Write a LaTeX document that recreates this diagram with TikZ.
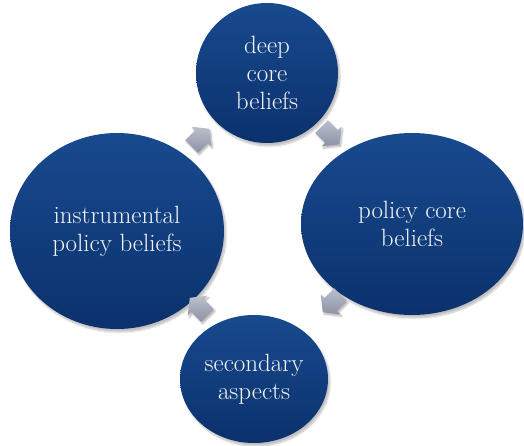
\documentclass[tikz,border=0pt]{standalone}
\usetikzlibrary{shapes.geometric,shadows.blur}

\definecolor{bubbletop}{HTML}{184A8E}
\definecolor{bubblebot}{HTML}{0B316D}
\definecolor{arrowtop}{HTML}{BBC0CD}
\definecolor{arrowbot}{HTML}{8C92A4}
\definecolor{labeltext}{HTML}{F4F4F4}

\begin{document}
\begin{tikzpicture}[x=1pt,y=-1pt,
  bubble/.style={ellipse, inner sep=0pt, draw=none,
    top color=bubbletop, bottom color=bubblebot,
    text=labeltext, align=center,
    font=\fontsize{25}{28}\selectfont,
    blur shadow={shadow xshift=2pt, shadow yshift=-3pt,
      shadow blur steps=8, shadow opacity=25}},
  cyclearrow/.pic={
    \path[top color=arrowtop, bottom color=arrowbot,
      blur shadow={shadow xshift=1.5pt, shadow yshift=-2pt,
        shadow blur steps=5, shadow opacity=30}]
      (-12,-9) -- (2,-9) -- (2,-14) -- (13,0) -- (2,14)
      -- (2,9) -- (-12,9) -- cycle;
  }]
  \useasboundingbox (0,0) rectangle (524,446);

  % the four stages of the belief system
  \node[bubble, minimum width=142pt, minimum height=140pt]
    (deep) at (267,73) {deep\\core\\beliefs};
  \node[bubble, minimum width=222pt, minimum height=182pt]
    (core) at (412,224) {policy core\\beliefs};
  \node[bubble, minimum width=148pt, minimum height=128pt]
    (second) at (254,379) {secondary\\aspects};
  \node[bubble, minimum width=214pt, minimum height=196pt]
    (instr) at (117,231) {instrumental\\policy beliefs};

  % clockwise block arrows between the stages
  \pic[rotate=45]   at (200,138) {cyclearrow};
  \pic[rotate=-45]  at (330,135) {cyclearrow};
  \pic[rotate=-135] at (332,303) {cyclearrow};
  \pic[rotate=135]  at (199,307) {cyclearrow};
\end{tikzpicture}
\end{document}
